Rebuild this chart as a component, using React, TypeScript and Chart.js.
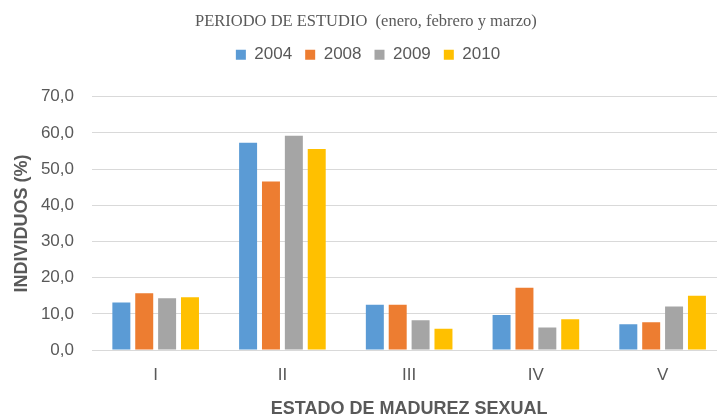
import React, { useEffect, useRef } from "react";
import { Chart, registerables } from "chart.js";

Chart.register(...registerables);

const categories = ["I", "II", "III", "IV", "V"];
const seriesNames = ["2004", "2008", "2009", "2010"];
const values2004 = [13.1, 57.3, 12.5, 9.7, 7.1];
const values2008 = [15.7, 46.6, 12.5, 17.2, 7.7];
const values2009 = [14.3, 59.2, 8.2, 6.2, 12.0];
const values2010 = [14.6, 55.6, 5.9, 8.5, 15.0];
const seriesColors = ["#5B9BD5", "#ED7D31", "#A5A5A5", "#FFC000"];
const yTicksMin = 0;
const yTicksMax = 70;
const yTicksStep = 10;

const TEXT = "#595959";
const SANS = "'Liberation Sans', Arial, sans-serif";

export default function App() {
  const ref = useRef<HTMLCanvasElement | null>(null);

  useEffect(() => {
    if (!ref.current) return;
    const allValues = [values2004, values2008, values2009, values2010];
    const chart = new Chart(ref.current, {
      type: "bar",
      data: {
        labels: categories,
        datasets: seriesNames.map((name, i) => ({
          label: name,
          data: allValues[i],
          backgroundColor: seriesColors[i],
          borderWidth: 0,
          categoryPercentage: 0.722,
          barPercentage: 0.786,
        })),
      },
      options: {
        responsive: false,
        animation: false,
        layout: { padding: { left: 10, right: 0, top: 0, bottom: 0 } },
        plugins: {
          title: {
            display: true,
            text: "PERIODO DE ESTUDIO  (enero, febrero y marzo) ",
            color: TEXT,
            font: { family: "'Liberation Serif', 'Times New Roman', serif", size: 16.5, weight: "normal", lineHeight: 1.2 },
            padding: { top: 12, bottom: 1.5 },
          },
          subtitle: {
            display: true,
            text: " ",
            weight: 500,
            font: { size: 10, lineHeight: 1 },
            padding: { top: 0, bottom: 13.5 },
          },
          legend: {
            display: true,
            position: "top",
            labels: {
              boxWidth: 10,
              boxHeight: 10,
              padding: 13,
              color: TEXT,
              font: { family: SANS, size: 17 },
            },
          },
          tooltip: { enabled: false },
        },
        scales: {
          x: {
            afterFit: (scale: any) => { scale.height = 68; },
            grid: { display: false, drawTicks: false },
            border: { display: false },
            ticks: { color: TEXT, font: { family: SANS, size: 17 }, padding: 15 },
            title: {
              display: true,
              text: "ESTADO DE MADUREZ SEXUAL",
              color: TEXT,
              font: { family: SANS, size: 18, weight: "bold", lineHeight: 1 },
              padding: { top: 0, bottom: 0 },
            },
          },
          y: {
            afterFit: (scale: any) => { scale.width = 82.3; },
            min: yTicksMin,
            max: yTicksMax,
            grid: { color: "#D9D9D9", lineWidth: 1, drawTicks: false },
            border: { display: false },
            ticks: {
              stepSize: yTicksStep,
              color: TEXT,
              font: { family: SANS, size: 17 },
              padding: 18.3,
              callback: (v: any) => Number(v).toFixed(1).replace(".", ","),
            },
            title: {
              display: true,
              text: "INDIVIDUOS (%)",
              color: TEXT,
              font: { family: SANS, size: 18, weight: "bold", lineHeight: 1.2 },
              padding: { top: 1.7, bottom: 0 },
            },
          },
        },
      },
    } as any);
    return () => chart.destroy();
  }, []);

  return (
    <div style={{ position: "fixed", left: 0, top: 0, width: 717, height: 418, overflow: "hidden", background: "#fff" }}>
      <canvas ref={ref} width={726} height={418} style={{ display: "block" }} />
    </div>
  );
}
